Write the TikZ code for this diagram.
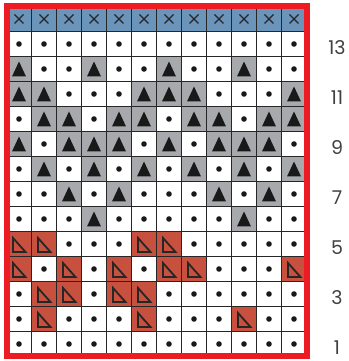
\documentclass[tikz,border=0pt]{standalone}
\usepackage{fontspec}
\setmainfont{Poppins}
\usepackage{tikz}
\usetikzlibrary{positioning}

\definecolor{hdrblue}{RGB}{107,148,187}
\definecolor{knitgray}{RGB}{167,169,172}
\definecolor{brick}{RGB}{200,80,62}
\definecolor{framered}{RGB}{237,28,36}

\begin{document}
\begin{tikzpicture}[
    x=1pt, y=1pt,
    cell/.style={rectangle, draw=black!85, line width=0.8pt, minimum size=25pt, inner sep=0pt, outer sep=0pt},
    cellx/.style={cell, fill=hdrblue, path picture={\draw[line width=1.3pt, black!85] ([shift={(-4.5,-4.5)}]path picture bounding box.center) -- ++(9,9) ([shift={(-4.5,4.5)}]path picture bounding box.center) -- ++(9,-9);}},
    celld/.style={cell, fill=white, path picture={\fill[black!90] (path picture bounding box.center) circle (2.8);}},
    cellt/.style={cell, fill=knitgray, path picture={\fill[black!90] ([shift={(-7,-7.5)}]path picture bounding box.center) -- ++(14,0) -- ++(-7,15) -- cycle;}},
    cellr/.style={cell, fill=brick, path picture={\draw[line width=1.8pt, black!85, line join=miter] ([shift={(-6,6)}]path picture bounding box.center) -- ++(0,-14) -- ++(12.5,0) -- cycle;}},
    rownum/.style={font=\fontsize{19}{19}\selectfont, text=black!75, anchor=base},
    chartframe/.style={draw=framered, line width=6pt}
]
    \useasboundingbox (0,0) rectangle (348,361);

    % chart rows, top (header) to bottom
    \foreach \r/\codes in {
        14/{x,x,x,x,x,x,x,x,x,x,x,x},
        13/{d,d,d,d,d,d,d,d,d,d,d,d},
        12/{t,d,d,t,d,d,t,d,d,t,d,d},
        11/{t,t,d,d,d,t,t,t,d,d,d,t},
        10/{d,t,t,d,t,t,d,t,t,d,t,t},
        9/{t,d,t,t,t,d,t,d,t,t,t,d},
        8/{d,t,d,t,d,t,d,t,d,t,d,t},
        7/{d,d,t,d,t,d,d,d,t,d,t,d},
        6/{d,d,d,t,d,d,d,d,d,t,d,d},
        5/{r,r,d,d,d,r,r,d,d,d,d,d},
        4/{r,d,r,d,r,d,r,r,d,d,d,r},
        3/{d,r,r,d,r,r,d,d,d,d,d,d},
        2/{d,r,d,d,d,r,d,d,d,r,d,d},
        1/{d,d,d,d,d,d,d,d,d,d,d,d}}
        \foreach \c [count=\i] in \codes
            \node[cell\c] (c\r-\i) at ({19+25*(\i-1)}, {17+25*(\r-1)}) {};

    \draw[chartframe] (c14-1.north west) rectangle (c1-12.south east);

    % row numbers
    \foreach \r in {1,3,...,13}
        \node[rownum] (n\r) at (337, {6+25*(\r-1)}) {\r};
\end{tikzpicture}
\end{document}
